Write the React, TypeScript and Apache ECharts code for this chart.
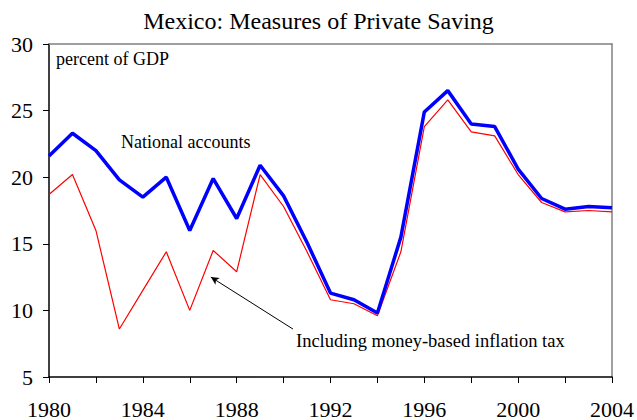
import React, { useEffect, useRef } from "react";
import * as echarts from "echarts";

const years = [1980, 1981, 1982, 1983, 1984, 1985, 1986, 1987, 1988, 1989, 1990, 1991, 1992, 1993, 1994, 1995, 1996, 1997, 1998, 1999, 2000, 2001, 2002, 2003, 2004];
const nationalAccounts = [21.6, 23.3, 22.0, 19.8, 18.5, 20.0, 16.0, 19.9, 16.9, 20.9, 18.6, 15.1, 11.3, 10.8, 9.8, 15.5, 24.9, 26.5, 24.0, 23.8, 20.6, 18.4, 17.6, 17.8, 17.7];
const withInflationTax = [18.7, 20.2, 16.0, 8.6, 11.5, 14.4, 10.0, 14.5, 12.9, 20.2, 17.8, 14.4, 10.8, 10.5, 9.6, 14.4, 23.8, 25.8, 23.4, 23.1, 20.2, 18.1, 17.4, 17.5, 17.4];
const yTicks = [5, 10, 15, 20, 25, 30];
const xLabelYears = [1980, 1984, 1988, 1992, 1996, 2000, 2004];
const arrowFrom = [1990.4, 8.6];
const arrowTo = [1986.9, 12.5];

const titleText = "Mexico: Measures of Private Saving";
const unitText = "percent of GDP";
const label1 = "National accounts";
const label2 = "Including money-based inflation tax";

const FONT = "Liberation Serif";

export default function App() {
  const ref = useRef<HTMLDivElement>(null);
  useEffect(() => {
    if (!ref.current) return;
    const chart = echarts.init(ref.current, null, { renderer: "svg" });
    const toPairs = (vals: number[]) => years.map((y, i) => [y, vals[i]]);
    chart.setOption({
      animation: false,
      backgroundColor: "#ffffff",
      textStyle: { fontFamily: FONT },
      title: {
        text: titleText,
        left: "center",
        top: 4,
        textStyle: { fontFamily: FONT, fontSize: 24, fontWeight: "normal", color: "#000" },
      },
      grid: { left: 49, right: 24, top: 44, bottom: 41, containLabel: false },
      xAxis: [
        {
          type: "value",
          min: 1980,
          max: 2004,
          interval: 2,
          axisLine: { show: true, lineStyle: { color: "#000", width: 1.5 } },
          axisTick: { show: true, inside: false, length: 6, lineStyle: { color: "#000", width: 1 } },
          splitLine: { show: false },
          axisLabel: {
            fontFamily: FONT,
            fontSize: 22,
            color: "#000",
            margin: 21,
            showMinLabel: true,
            showMaxLabel: true,
            formatter: (v: number) => (xLabelYears.indexOf(v) >= 0 ? String(v) : ""),
          },
        },
        {
          type: "value",
          position: "top",
          min: 1980,
          max: 2004,
          axisLine: { show: true, onZero: false, lineStyle: { color: "#808080", width: 1.5 } },
          axisTick: { show: false },
          axisLabel: { show: false },
          splitLine: { show: false },
        },
      ],
      yAxis: [
        {
          type: "value",
          min: 5,
          max: 30,
          interval: 5,
          axisLine: { show: true, onZero: false, lineStyle: { color: "#000", width: 1.5 } },
          axisTick: { show: true, inside: false, length: 6, lineStyle: { color: "#000", width: 1 } },
          splitLine: { show: false },
          axisLabel: {
            fontFamily: FONT,
            fontSize: 22,
            color: "#000",
            margin: 16,
            formatter: (v: number) => (yTicks.indexOf(v) >= 0 ? String(v) : ""),
          },
        },
        {
          type: "value",
          position: "right",
          min: 5,
          max: 30,
          axisLine: { show: true, onZero: false, lineStyle: { color: "#808080", width: 1.5 } },
          axisTick: { show: false },
          axisLabel: { show: false },
          splitLine: { show: false },
        },
      ],
      series: [
        {
          name: label2,
          type: "line",
          data: toPairs(withInflationTax),
          showSymbol: false,
          symbol: "none",
          lineStyle: { color: "#ff0000", width: 1.2 },
          z: 2,
        },
        {
          name: label1,
          type: "line",
          data: toPairs(nationalAccounts),
          showSymbol: false,
          symbol: "none",
          lineStyle: { color: "#0000ff", width: 3.5 },
          z: 3,
          markLine: {
            silent: true,
            symbol: ["none", "arrow"],
            symbolSize: [6, 8],
            lineStyle: { color: "#000", width: 1, type: "solid" },
            label: { show: false },
            data: [[{ coord: arrowFrom }, { coord: arrowTo }]],
          },
        },
      ],
      graphic: [
        {
          type: "text",
          left: 56,
          top: 50,
          style: { text: unitText, fontFamily: FONT, fontSize: 18, fill: "#000" },
        },
        {
          type: "text",
          left: 121,
          top: 133,
          style: { text: label1, fontFamily: FONT, fontSize: 18, fill: "#000" },
        },
        {
          type: "text",
          left: 296,
          top: 331,
          style: { text: label2, fontFamily: FONT, fontSize: 18.5, fill: "#000" },
        },
      ],
    });
    return () => chart.dispose();
  }, []);
  return <div ref={ref} style={{ width: 637, height: 420, position: "absolute", left: 0, top: 0 }} />;
}
